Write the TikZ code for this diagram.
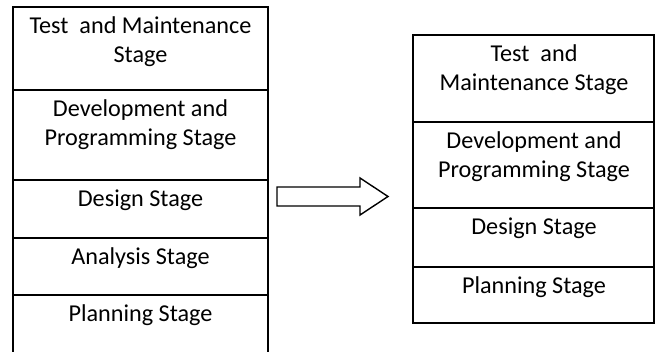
\documentclass[tikz,border=0pt]{standalone}
\usepackage{fontspec}
\setmainfont{Carlito}
\usepackage{tikz}
\usetikzlibrary{positioning}

\begin{document}
\begin{tikzpicture}[x=1pt,y=-1pt,
    frame/.style={line width=2.2pt},
    stage/.style={anchor=north,inner sep=0pt,align=center,font=\fontsize{24.2}{29.5}\selectfont}]
\useasboundingbox (0,0) rectangle (657,352);
% Old model (left stack)
\draw [frame] (13,353) -- (13,7) -- (268,7) -- (268,353);
\foreach \y in {90,180,238,295}{
    \draw [frame] (13,\y) -- (268,\y);
}
\node [stage] (ltest) at (140.5,16.5) {Test\ \ and Maintenance\\Stage};
\node [stage] (ldev) at (140.5,99.5) {Development and\\Programming Stage};
\node [stage] (ldes) at (140.5,189.5) {Design Stage};
\node [stage] (lana) at (140.5,247.5) {Analysis Stage};
\node [stage] (lplan) at (140.5,304.5) {Planning Stage};
% Block arrow
\draw [line width=1.4pt] (277,187) -- (360,187) -- (360,178) -- (388,196.5)
    -- (360,215) -- (360,206) -- (277,206) -- cycle;
% New model (right stack)
\draw [frame] (413,35) rectangle (654,323);
\foreach \y in {122,208,267}{
    \draw [frame] (413,\y) -- (654,\y);
}
\node [stage] (rtest) at (534,44.5) {Test\ \ and\\Maintenance Stage};
\node [stage] (rdev) at (534,131.5) {Development and\\Programming Stage};
\node [stage] (rdes) at (534,217.5) {Design Stage};
\node [stage] (rplan) at (534,276.5) {Planning Stage};
\end{tikzpicture}
\end{document}
